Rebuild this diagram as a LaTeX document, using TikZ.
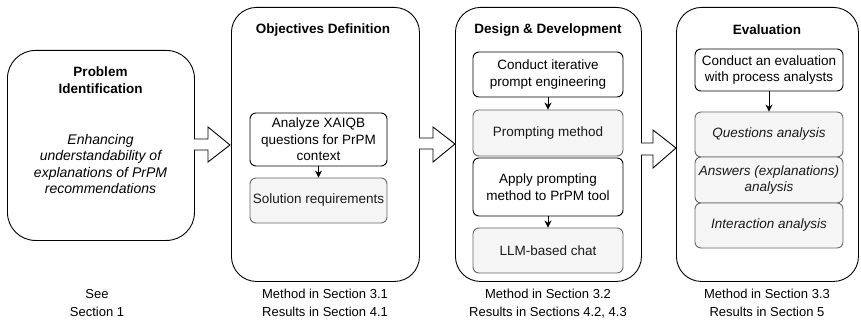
\documentclass[tikz,border=0pt]{standalone}
\usepackage{fontspec}
\setmainfont{Liberation Sans}
\usetikzlibrary{arrows.meta}
\definecolor{gfill}{HTML}{F5F5F5}
\definecolor{gdraw}{HTML}{666666}
\definecolor{gtext}{HTML}{1A1A1A}
\begin{document}
\begin{tikzpicture}[x=1pt,y=-1pt,
  txt/.style={font=\fontsize{13.5}{16.5}\selectfont},
  phase/.style={draw=black, line width=0.9pt, rounded corners=25pt, fill=white, inner sep=0pt, anchor=north west},
  step box/.style={draw=black, line width=0.9pt, rounded corners=6pt, fill=white, align=center, txt, inner sep=0pt},
  result box/.style={draw=gdraw, line width=0.9pt, rounded corners=6pt, fill=gfill, align=center, txt, text=gtext, inner sep=0pt},
  ttl/.style={font=\fontsize{13.5}{17}\selectfont\bfseries, align=center},
  foot/.style={font=\fontsize{13}{18}\selectfont, align=center, anchor=north},
  flow/.style={-{Stealth[length=7pt,width=7pt]}, line width=0.9pt},
  blockarrow/.style={draw=black, line width=0.9pt, fill=white, line join=miter}
]
\useasboundingbox (0,0) rectangle (861,320);

% Phase boxes
\node[phase, rounded corners=28pt, minimum width=187pt, minimum height=190pt] (p1) at (7,50) {};
\node[phase, minimum width=188pt, minimum height=274pt] (p2) at (231,7) {};
\node[phase, minimum width=186pt, minimum height=274pt] (p3) at (455,7) {};
\node[phase, minimum width=182pt, minimum height=274pt] (p4) at (676,7) {};

% Titles
\node[ttl] (t1) at (100.5,80) {Problem\\Identification};
\node[ttl] (t2) at (323,30) {Objectives Definition};
\node[ttl] (t3) at (548,30) {Design \& Development};
\node[ttl] (t4) at (767,30) {Evaluation};

% Problem text
\node[align=center, font=\fontsize{14}{16.5}\selectfont\itshape] (d1) at (100.5,164) {Enhancing\\understandability of\\explanations of PrPM\\recommendations};

% Objectives
\node[step box, minimum width=137pt, minimum height=53pt] (o1) at (318.5,139.5) {Analyze XAIQB\\questions for PrPM\\context};
\node[result box, minimum width=137pt, minimum height=45pt] (o2) at (318.5,200.5) {Solution requirements};
\draw[flow] (o1) -- (o2);

% Design
\node[step box, minimum width=150pt, minimum height=45pt] (d1a) at (548,74.5) {Conduct iterative\\prompt engineering};
\node[result box, minimum width=150pt, minimum height=46pt] (d1b) at (548,133) {Prompting method};
\node[step box, minimum width=150pt, minimum height=58pt] (d2a) at (548,187) {Apply prompting\\method to PrPM tool};
\node[result box, minimum width=150pt, minimum height=45pt] (d2b) at (548,250.5) {LLM-based chat};
\draw[flow] (d1a) -- (d1b);
\draw[flow] (d2a) -- (d2b);

% Evaluation
\node[step box, minimum width=148pt, minimum height=42pt] (e1) at (769,70) {Conduct an evaluation\\with process analysts};
\node[result box, minimum width=148pt, minimum height=45pt, font=\fontsize{13.5}{16.5}\selectfont\itshape] (e2) at (769,134.5) {Questions analysis};
\node[result box, minimum width=148pt, minimum height=46pt, font=\fontsize{13.5}{16.5}\selectfont\itshape] (e3) at (769,180) {Answers (explanations)\\analysis};
\node[result box, minimum width=148pt, minimum height=45pt, font=\fontsize{13.5}{16.5}\selectfont\itshape] (e4) at (769,225.5) {Interaction analysis};
\draw[flow] (e1) -- (e2);

% Block arrows
\draw[blockarrow] (194,139) -- (208,139) -- (208,127) -- (230,145) -- (208,162) -- (208,150) -- (194,150);
\draw[blockarrow] (419,138) -- (433,138) -- (433,127) -- (455,144) -- (433,162) -- (433,149) -- (419,149);
\draw[blockarrow] (641,143) -- (653,143) -- (653,130) -- (676,148) -- (653,168) -- (653,155) -- (641,155);

% Footers
\node[foot] (f1) at (97,286) {See\\Section 1};
\node[foot] (f2) at (325,286) {Method in Section 3.1\\Results in Section 4.1};
\node[foot] (f3) at (548,286) {Method in Section 3.2\\Results in Sections 4.2, 4.3};
\node[foot] (f4) at (767,286) {Method in Section 3.3\\Results in Section 5};
\end{tikzpicture}
\end{document}
